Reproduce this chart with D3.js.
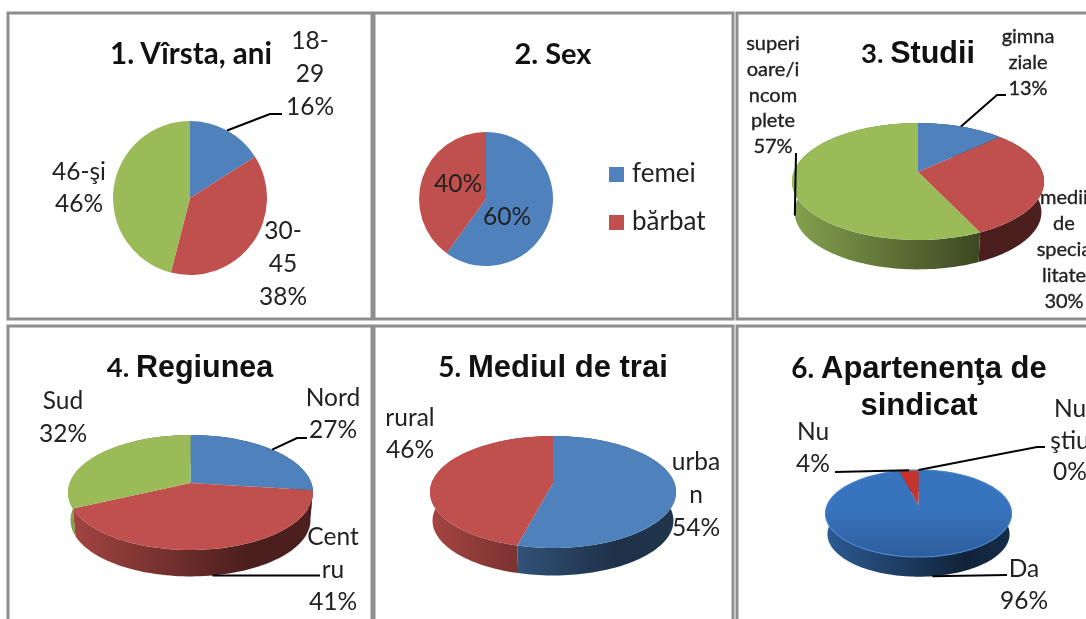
<!DOCTYPE html>
<html>
<head>
<meta charset="utf-8">
<script src="https://cdn.jsdelivr.net/npm/d3@7"></script>
<style>
    body { margin: 0; background: #fff; overflow: hidden; }
    svg { display: block; filter: blur(0.55px); }
    text { font-family: Lato, "Noto Sans", sans-serif; fill: #222; }
</style>
</head>
<body>
<div id="chart"></div>
<script>
// values
const ageCategories = ["18-29", "30-45", "46-şi"];
const ageValues = [16, 38, 46];
const sexCategories = ["femei", "bărbat"];
const sexValues = [60, 40];
const studyCategories = ["gimnaziale", "medii de specialitate", "superioare/incomplete"];
const studyValues = [13, 30, 57];
const regionCategories = ["Nord", "Centru", "Sud"];
const regionValues = [27, 41, 32];
const placeCategories = ["urban", "rural"];
const placeValues = [54, 46];
const unionCategories = ["Da", "Nu", "Nu ştiu"];
const unionValues = [96, 4, 0];

const w = 1086;
const h = 619;
const blue = "#4f81bd";
const red = "#c0504d";
const green = "#9bbb59";

const svg = d3.select("#chart")
    .append("svg")
    .attr("width", w)
    .attr("height", h);
const defs = svg.append("defs");

// Label settings: c = index of category, x = centre, y = first baseline, br = where the name wraps
const panels = [
    {
        box: [8, 13, 364, 306], names: ageCategories, values: ageValues, colors: [blue, red, green],
        title: [{ num: "1. Vîrsta, ani", x: 191, y: 64, size: 29.5 }],
        flat: { cx: 190, cy: 198, r: 77 },
        labels: [
            { c: 0, x: 310, y: 49, lh: 33, br: [3] },
            { c: 1, x: 283, y: 239, lh: 33, br: [3] },
            { c: 2, x: 79, y: 180, lh: 32, br: [] }
        ],
        leaders: [{ c: 0, via: [[270, 114], [282, 114]] }]
    },
    {
        box: [374, 13, 359, 306], names: sexCategories, values: sexValues, colors: [blue, red],
        title: [{ num: "2. Sex", x: 553, y: 64, size: 29 }],
        flat: { cx: 486, cy: 199, r: 67 },
        labels: [
            { c: 0, x: 507, y: 225, percentOnly: true },
            { c: 1, x: 458, y: 192, percentOnly: true }
        ],
        leaders: [],
        legend: { x: 609, y: [167, 215], size: 15 }
    },
    {
        box: [737, 13, 370, 306], names: studyCategories, values: studyValues, colors: [blue, red, green],
        title: [{ num: "3. ", rest: "Studii", x: 918, y: 63, size: 30.5 }],
        solid: { cx: 918, cy: 172, up: 49, down: 68, rx: 126, depth: 31 },
        labelSize: 20, labelStroke: 0.35,
        labels: [
            { c: 0, x: 1028, y: 43, lh: 26, br: [5] },
            { c: 1, x: 1064, y: 204, lh: 26, br: [5, 8, 15] },
            { c: 2, x: 773, y: 50, lh: 25.8, br: [6, 12, 16] }
        ],
        leaders: [
            { c: 0, via: [[997, 95], [1006, 95]] },
            { c: 2, lower: true, via: [[796, 153]] }
        ]
    },
    {
        box: [8, 326, 364, 310], names: regionCategories, values: regionValues, colors: [blue, red, green],
        title: [{ num: "4. ", rest: "Regiunea", x: 190, y: 377, size: 30.5 }],
        solid: { cx: 190.5, cy: 483, up: 48, down: 67, rx: 122.5, depth: 28 },
        labels: [
            { c: 0, x: 333, y: 406, lh: 32, br: [] },
            { c: 1, x: 333, y: 545, lh: 32.5, br: [4] },
            { c: 2, x: 63, y: 409, lh: 33, br: [] }
        ],
        leaders: [
            { c: 0, via: [[297, 438], [307, 438]] },
            { c: 1, lower: true, via: [[320, 575.5]] }
        ]
    },
    {
        box: [374, 326, 359, 310], names: placeCategories, values: placeValues, colors: [blue, red],
        title: [{ num: "5. ", rest: "Mediul de trai", x: 553, y: 377, size: 31 }],
        solid: { cx: 553, cy: 483, up: 47, down: 65, rx: 123, depth: 29 },
        labels: [
            { c: 0, x: 696, y: 470, lh: 33, br: [4] },
            { c: 1, x: 410, y: 426, lh: 32, br: [] }
        ],
        leaders: []
    },
    {
        box: [737, 326, 370, 310], names: unionCategories, values: unionValues,
        colors: ["#3873bd", "#c5332d", red],
        title: [
            { num: "6. ", rest: "Apartenenţa de", x: 919, y: 378, size: 31 },
            { rest: "sindicat", x: 919, y: 415, size: 31 }
        ],
        solid: { cx: 918.5, cy: 505, up: 35, down: 52, rx: 93, depth: 21, shiny: true },
        labels: [
            { c: 0, x: 1024, y: 577, lh: 32, br: [] },
            { c: 1, x: 813, y: 440, lh: 32, br: [] },
            { c: 2, x: 1070, y: 417, lh: 31.5, br: [2] }
        ],
        leaders: [
            { c: 0, lower: true, via: [[1007, 575]] },
            { c: 1, via: [[835, 472]] },
            { c: 2, via: [[1037, 447], [1045, 447]] }
        ]
    }
];

// Tilted pie: the unit circle goes through a small perspective so the centre sits above the middle
function projector(s) {
    const p = (s.down - s.up) / (s.down + s.up);
    const b = s.up * (1 + p);
    const a = s.rx * Math.sqrt(1 - p * p);
    return function (angle, scale, drop) {
        const X = Math.sin(angle) * scale;
        const Y = -Math.cos(angle) * scale;
        const k = 1 / (1 - p * Y);
        return [s.cx + a * X * k, s.cy + b * Y * k + drop];
    };
}

function sweep(a0, a1) {
    const n = Math.max(2, Math.ceil((a1 - a0) / 0.03));
    return d3.range(n + 1).map(i => a0 + (a1 - a0) * i / n);
}

function wallGradient(id, color, s, shiny) {
    const mix = d3.interpolateRgb(color, "#000");
    const g = defs.append("linearGradient")
        .attr("id", id)
        .attr("gradientUnits", "userSpaceOnUse")
        .attr("x1", s.cx - s.rx).attr("x2", s.cx + s.rx)
        .attr("y1", 0).attr("y2", 0);
    const stops = shiny ? [[0, 0.22], [0.75, 0.7], [1, 0.62]] : [[0, 0.14], [0.75, 0.62], [1, 0.6]];
    g.selectAll("stop")
        .data(stops)
        .enter()
        .append("stop")
        .attr("offset", d => d[0])
        .attr("stop-color", d => mix(d[1]));
    return "url(#" + id + ")";
}

const line = d3.line();
const pie = d3.pie().sort(null);

function drawLeader(g, start, via) {
    g.append("path")
        .attr("d", line([start].concat(via)))
        .attr("fill", "none")
        .attr("stroke", "#000")
        .attr("stroke-width", 2);
}

panels.forEach((panel, pi) => {
    const g = svg.append("g");

    g.append("rect")
        .attr("x", panel.box[0])
        .attr("y", panel.box[1])
        .attr("width", panel.box[2])
        .attr("height", panel.box[3])
        .attr("fill", "#fff")
        .attr("stroke", "#8e8e8e")
        .attr("stroke-width", 3);

    const slices = pie(panel.values);

    if (panel.flat) {
        const arc = d3.arc().innerRadius(0).outerRadius(panel.flat.r);
        g.append("g")
            .attr("transform", "translate(" + panel.flat.cx + "," + panel.flat.cy + ")")
            .selectAll("path")
            .data(slices)
            .enter()
            .append("path")
            .attr("d", arc)
            .attr("fill", (d, i) => panel.colors[i]);

        panel.leaders.forEach(l => {
            const mid = (slices[l.c].startAngle + slices[l.c].endAngle) / 2;
            const start = [panel.flat.cx + panel.flat.r * Math.sin(mid), panel.flat.cy - panel.flat.r * Math.cos(mid)];
            drawLeader(g, start, l.via);
        });
    } else {
        const s = panel.solid;
        const at = projector(s);

        // side walls first, the top surface covers whatever is behind
        slices.forEach((d, i) => {
            if (d.value === 0) return;
            const angles = sweep(d.startAngle, d.endAngle);
            const top = angles.map(a => at(a, 1, 0));
            const bottom = angles.map(a => at(a, 0.98, s.depth)).reverse();
            g.append("path")
                .attr("d", line(top.concat(bottom)) + "Z")
                .attr("fill", wallGradient("wall" + pi + "-" + i, panel.colors[i], s, s.shiny));
        });

        slices.forEach((d, i) => {
            if (d.value === 0) return;
            const pts = sweep(d.startAngle, d.endAngle).map(a => at(a, 1, 0));
            g.append("path")
                .attr("d", line([[s.cx, s.cy]].concat(pts)) + "Z")
                .attr("fill", panel.colors[i]);
        });

        if (s.shiny) {
            const pts = sweep(0, Math.PI * 2).map(a => at(a, 1, 0));
            const shade = defs.append("linearGradient")
                .attr("id", "shade" + pi)
                .attr("x1", 0).attr("x2", 0).attr("y1", 0).attr("y2", 1);
            shade.append("stop").attr("offset", 0.45).attr("stop-color", "#1c3a66").attr("stop-opacity", 0);
            shade.append("stop").attr("offset", 1).attr("stop-color", "#1c3a66").attr("stop-opacity", 0.38);
            g.append("path")
                .attr("d", line(pts) + "Z")
                .attr("fill", "url(#shade" + pi + ")")
                .attr("stroke", "#4a86cc")
                .attr("stroke-width", 1.2);
        }

        panel.leaders.forEach(l => {
            const mid = (slices[l.c].startAngle + slices[l.c].endAngle) / 2;
            drawLeader(g, l.lower ? at(mid, 0.98, s.depth) : at(mid, 1, 0), l.via);
        });
    }

    panel.title.forEach(t => {
        const title = g.append("text")
            .attr("x", t.x)
            .attr("y", t.y)
            .attr("text-anchor", "middle")
            .attr("font-size", t.size)
            .attr("font-weight", 700)
            .style("fill", "#111");
        if (t.num) title.append("tspan").attr("font-size", t.rest ? t.size - 3 : t.size).text(t.num);
        if (t.rest) title.append("tspan").style("font-family", "'Liberation Sans'").text(t.rest);
    });

    panel.labels.forEach(l => {
        const name = panel.names[l.c];
        const cuts = [0].concat(l.br || [], [name.length]);
        const pieces = l.percentOnly ? [] : d3.pairs(cuts).map(c => name.slice(c[0], c[1]).trim());
        const rows = pieces.concat([panel.values[l.c] + "%"]);
        g.append("g")
            .selectAll("text")
            .data(rows)
            .enter()
            .append("text")
            .attr("x", l.x)
            .attr("y", (d, i) => l.y + i * (l.lh || 0))
            .attr("text-anchor", "middle")
            .attr("font-size", panel.labelSize || 24.5)
            .attr("stroke", panel.labelStroke ? "#222" : "none")
            .attr("stroke-width", panel.labelStroke || 0)
            .text(d => d);
    });

    if (panel.legend) {
        panel.names.forEach((name, i) => {
            g.append("rect")
                .attr("x", panel.legend.x)
                .attr("y", panel.legend.y[i])
                .attr("width", panel.legend.size)
                .attr("height", panel.legend.size)
                .attr("fill", panel.colors[i]);
            g.append("text")
                .attr("x", panel.legend.x + 23)
                .attr("y", panel.legend.y[i] + 15)
                .attr("font-size", 26)
                .text(name);
        });
    }
});
</script>
</body>
</html>
